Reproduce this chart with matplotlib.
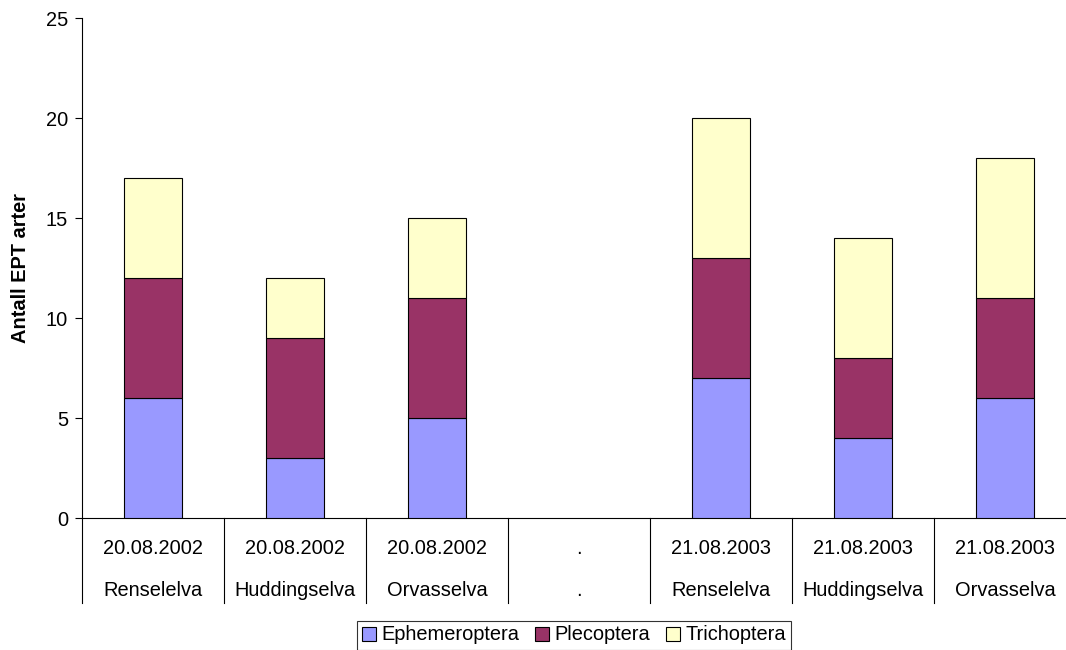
import numpy as np
import matplotlib.pyplot as plt
from matplotlib import transforms

plt.rcParams['font.family'] = ['Liberation Sans', 'DejaVu Sans']

# Data
dates = ['20.08.2002', '20.08.2002', '20.08.2002', '.', '21.08.2003', '21.08.2003', '21.08.2003']
sites = ['Renselelva', 'Huddingselva', 'Orvasselva', '.', 'Renselelva', 'Huddingselva', 'Orvasselva']
ephemeroptera = [6, 3, 5, 0, 7, 4, 6]
plecoptera = [6, 6, 6, 0, 6, 4, 5]
trichoptera = [5, 3, 4, 0, 7, 6, 7]

colors = ['#9999FF', '#993366', '#FFFFCC']
names = ['Ephemeroptera', 'Plecoptera', 'Trichoptera']
fs = 14.4

fig = plt.figure(figsize=(10.66, 6.5), dpi=100)
W, H = 1066, 650
ax = fig.add_axes([82 / W, (H - 518) / H, 994 / W, 500 / H])

x = np.arange(len(dates))
bw = 0.41
bottom = np.zeros(len(x))
for vals, c, n in zip([ephemeroptera, plecoptera, trichoptera], colors, names):
    v = np.array(vals, dtype=float)
    mask = v > 0
    ax.bar(x[mask], v[mask], bw, bottom=bottom[mask], color=c, edgecolor='black',
           linewidth=0.8, label=n, zorder=3)
    bottom += v

ax.set_xlim(-0.5, len(x) - 0.5)
ax.set_ylim(0, 25)
ax.set_yticks(range(0, 26, 5))
ax.tick_params(axis='y', direction='out', length=5, width=0.8, labelsize=fs, pad=5)
ax.set_xticks([])
for s in ['top', 'right']:
    ax.spines[s].set_visible(False)
ax.spines['left'].set_linewidth(0.8)
ax.spines['bottom'].set_linewidth(0.8)
ax.set_ylabel('Antall EPT arter', fontsize=fs, fontweight='bold')
ax.yaxis.set_label_coords(-52 / 994, 0.5)

# Category labels and separators
trans = transforms.blended_transform_factory(ax.transData, ax.transAxes)
for i in range(len(x)):
    ax.text(x[i], -0.062, dates[i], transform=trans, ha='center', va='center', fontsize=fs)
    ax.text(x[i], -0.146, sites[i], transform=trans, ha='center', va='center', fontsize=fs)
for b in np.arange(-0.5, len(x) + 0.5):
    ax.plot([b, b], [0, -0.17], transform=trans, color='black', lw=0.8, clip_on=False)

leg = fig.legend(loc='center', bbox_to_anchor=(574 / W, (H - 635) / H), ncol=3,
                 frameon=True, fancybox=False, fontsize=fs, handlelength=0.7,
                 handleheight=0.7, handletextpad=0.25, columnspacing=0.8,
                 borderpad=0.25, borderaxespad=0)
leg.get_frame().set_edgecolor('black')
leg.get_frame().set_linewidth(0.8)

fig.savefig('out.png', dpi=100)
